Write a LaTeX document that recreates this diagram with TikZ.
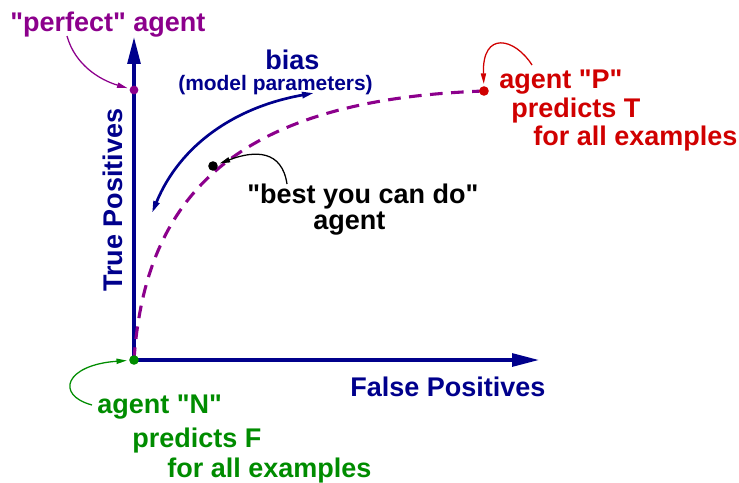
\documentclass[tikz,border=0pt]{standalone}
\usepackage{fontspec}
\setmainfont{Liberation Sans}[Ligatures=TeXOff]
\usetikzlibrary{arrows.meta,backgrounds}

\definecolor{axisblue}{RGB}{0,0,140}
\definecolor{rocpurple}{RGB}{140,0,140}
\definecolor{agentred}{RGB}{208,0,0}
\definecolor{agentgreen}{RGB}{0,140,0}

\begin{document}
\begin{tikzpicture}[
    x=0.025cm, y=-0.025cm,
    lbl/.style={inner sep=0pt, anchor=base west, font=\fontsize{19.2}{22}\selectfont\bfseries},
    small/.style={inner sep=0pt, anchor=base west, font=\fontsize{14.9}{17}\selectfont\bfseries},
    dot/.style={circle, fill, inner sep=0pt, minimum size=0.24cm},
    axis/.style={axisblue, line width=2.3pt, -{Triangle[length=0.67cm, width=0.32cm]}},
    bias/.style={axisblue, line width=1.9pt, {Triangle[length=0.3cm, width=0.15cm]}-{Triangle[length=0.3cm, width=0.15cm]}},
    note/.style={line width=0.9pt, shorten >=1.5pt, -{Triangle[length=0.26cm, width=0.13cm]}},
    roc/.style={rocpurple, line width=2.2pt, dash pattern=on 9pt off 6pt}
]
\useasboundingbox (0,0) rectangle (739,482);

\coordinate (origin) at (134,360);
\coordinate (ytip) at (134,37);
\coordinate (xtip) at (539,360);

\node[dot, rocpurple, minimum size=0.22cm] (perfect) at (134,90) {};
\node[dot, agentred] (allpos) at (484,91) {};
\node[dot] (best) at (213,166) {};
\node[dot, agentgreen] (allneg) at (134,360) {};

\begin{scope}[on background layer]
\draw[axis] (origin) -- (ytip);
\draw[axis] (origin) -- (xtip);
\draw[roc] (allneg.center) .. controls (145,200) and (230,100) .. (allpos.center);
\end{scope}

\node[lbl, axisblue, rotate=90, anchor=base] (tplbl) at (122,200) {True Positives};
\node[lbl, axisblue] (fplbl) at (350,396) {False Positives};

\node[lbl, axisblue] (biaslbl) at (265,69) {bias};
\node[small, axisblue] (paramlbl) at (178,90) {(model parameters)};
\coordinate (biaslo) at (152,213);
\coordinate (biashi) at (314,93);
\draw[bias] (biaslo) .. controls (180,145) and (235,107) .. (biashi);

\node[lbl, rocpurple] (perfectlbl) at (10,31) {"perfect" agent};
\coordinate (perfecttail) at (67,36);
\draw[note, rocpurple] (perfecttail) .. controls (75,65) and (100,80) .. (perfect);

\node[lbl] (bestlbl) at (247,203) {"best you can do"};
\node[lbl] (bestlbl2) at (313,229) {agent};
\coordinate (besttail) at (287,184);
\draw[note] (besttail) .. controls (282,150) and (255,150) .. (best);

\node[lbl, agentred] (plbl) at (499,88) {agent "P"};
\node[lbl, agentred] (plbl2) at (511,117) {predicts T};
\node[lbl, agentred] (plbl3) at (533,145) {for all examples};
\coordinate (ptail) at (532,65);
\draw[note, agentred] (ptail) .. controls (515,38) and (482,30) .. (allpos);

\node[lbl, agentgreen] (nlbl) at (97,413) {agent "N"};
\node[lbl, agentgreen] (nlbl2) at (132,447) {predicts F};
\node[lbl, agentgreen] (nlbl3) at (167,477) {for all examples};
\coordinate (ntail) at (92,405);
\draw[note, agentgreen] (ntail) .. controls (55,395) and (65,365) .. (allneg);
\end{tikzpicture}
\end{document}
